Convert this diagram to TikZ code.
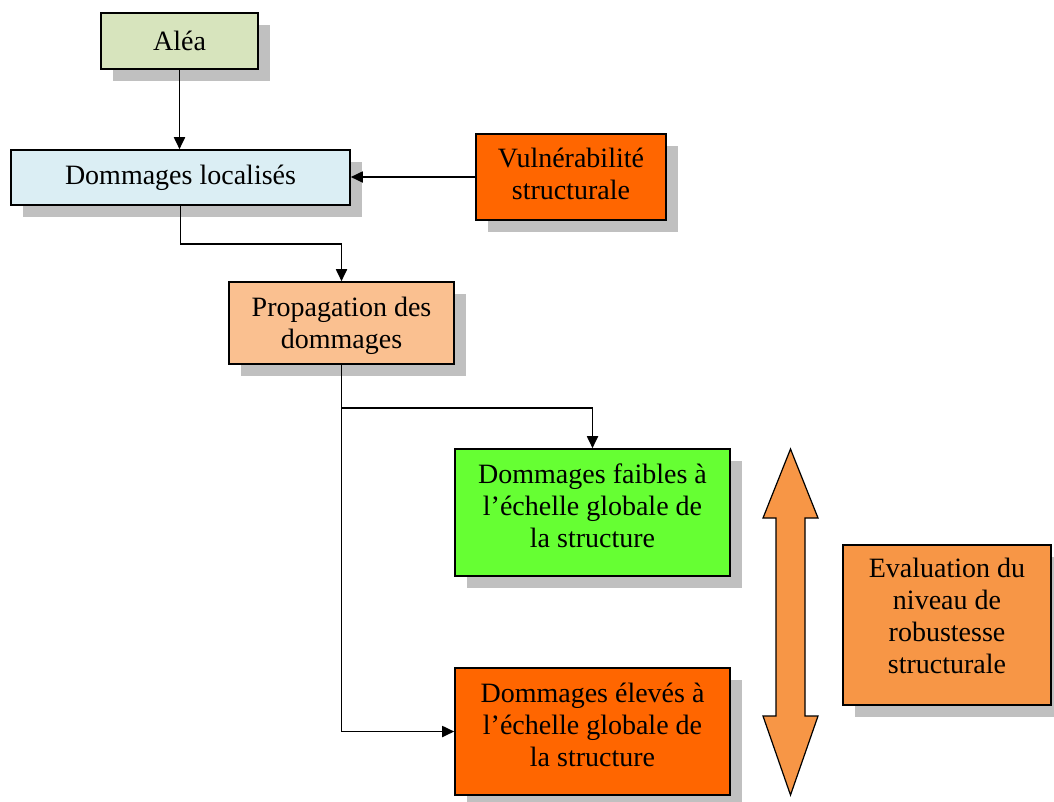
\documentclass[tikz,border=0pt]{standalone}
\usepackage{fontspec}
\setmainfont{Liberation Serif}
\usetikzlibrary{arrows.meta,shadows}
\definecolor{shadowgray}{HTML}{C0C0C0}
\definecolor{cAlea}{HTML}{D7E4BD}
\definecolor{cLoc}{HTML}{DBEEF4}
\definecolor{cVul}{HTML}{FF6600}
\definecolor{cProp}{HTML}{FAC090}
\definecolor{cFaib}{HTML}{66FF33}
\definecolor{cEval}{HTML}{F79646}
\newcommand\mlines[3]{\raisebox{0pt}[\dimexpr\height+#1\relax][\dimexpr\depth+#2\relax]{\begin{tabular}{@{}c@{}}#3\end{tabular}}}
\begin{document}
\begin{tikzpicture}[x=1pt,y=-1pt,
  box/.style={draw=black, line width=1.6pt, inner sep=0pt, align=center,
    font=\fontsize{28}{32}\selectfont,
    drop shadow={shadow xshift=12pt, shadow yshift=-12pt, fill=shadowgray, opacity=1, draw=none}},
  conn/.style={line width=1.8pt, -{Triangle[length=12pt,width=11pt]}}]
\useasboundingbox (0,0) rectangle (1054,801);

\node[box, fill=cAlea, minimum width=157pt, minimum height=56pt] (alea) at (179.5,41) {Aléa};
\node[box, fill=cLoc, minimum width=339pt, minimum height=55pt] (loc) at (180.5,177.5) {Dommages localisés};
\node[box, fill=cVul, minimum width=190pt, minimum height=86pt] (vul) at (571,177) {\mlines{0pt}{0pt}{Vulnérabilité\\structurale}};
\node[box, fill=cProp, minimum width=225pt, minimum height=82pt] (prop) at (341.5,323) {\mlines{7pt}{0pt}{Propagation des\\dommages}};
\node[box, fill=cFaib, minimum width=275pt, minimum height=127pt] (faib) at (592.5,512.5) {\mlines{0pt}{7pt}{Dommages faibles à\\l’échelle globale de\\la structure}};
\node[box, fill=cVul, minimum width=275pt, minimum height=127pt] (elev) at (592.5,731.5) {\mlines{0pt}{7pt}{Dommages élevés à\\l’échelle globale de\\la structure}};
\node[box, fill=cEval, minimum width=208pt, minimum height=160pt] (eval) at (947,625) {\mlines{0pt}{11pt}{Evaluation du\\niveau de\\robustesse\\structurale}};

\draw[fill=cEval, draw=black, line width=1.2pt]
  (790.5,449) -- (818,518) -- (805,518) -- (805,716) -- (818,716) -- (790.5,795)
  -- (763,716) -- (776,716) -- (776,518) -- (763,518) -- cycle;

\draw[conn] (alea.south) -- (alea.south |- loc.north);
\draw[conn] (vul.west) -- (vul.west -| loc.east);
\draw[conn] (loc.south) -- ++(0,38) -| (prop.north);
\draw[conn] (prop.south) -- ++(0,43) -| (faib.north);
\draw[conn] (prop.south) |- (elev.west);
\end{tikzpicture}
\end{document}
